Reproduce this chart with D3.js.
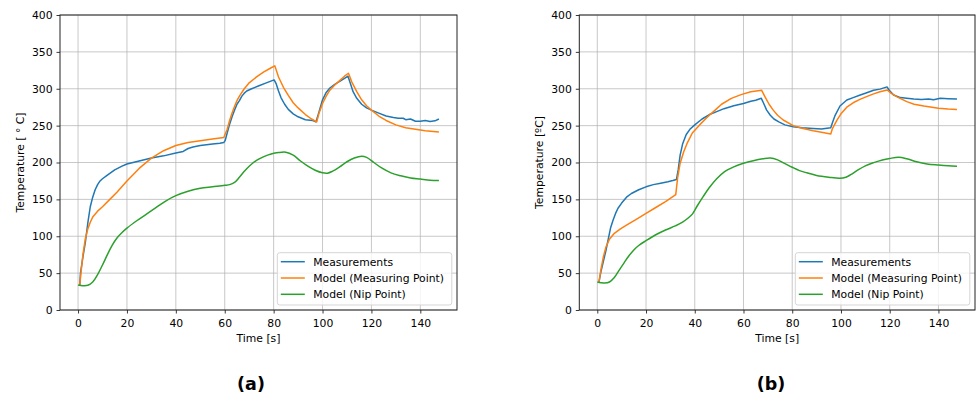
<!DOCTYPE html>
<html>
<head>
<meta charset="utf-8">
<script src="https://cdn.jsdelivr.net/npm/d3@7"></script>
<style>
  body { margin: 0; background: #fff; }
  text { font-family: "DejaVu Sans", sans-serif; fill: #000; }
</style>
</head>
<body>
<svg id="chart" width="976" height="396"></svg>
<script>
// panel (a): [time s, temperature]
const measA = [[0.7,34],[1,50],[2,72],[3,92],[4,118],[5,140],[6,153],[7,163],[8,170],[9,175],[10,178],[12,183],[15,190],[18,195],[20,198],[25,202],[30,206],[35,209],[40,213],[43,215],[45,219],[47,221],[50,223],[55,225],[58,226],[59.6,227],[60.2,230],[61,240],[62,252],[63,262],[64,271],[65,279],[66,284],[67,290],[68,294],[69,297],[71,300],[74,304],[77,308],[80.2,312],[81,307],[82,297],[83,288],[84.5,279],[86,272],[88,266],[90,262],[93,258],[96,257],[97.3,255],[98.5,268],[100,285],[101.5,295],[103,301],[105,306],[107,310],[109,314],[110.4,317],[111.3,308],[112.5,296],[114,287],[116,279],[118,274],[120,271],[123,267],[126,263],[129,261],[131,260],[133,260],[134,258],[136,259],[138,256],[140,256],[142,257],[144,255.5],[146,256.5],[147.6,259]];
const modelMpA = [[0.7,34],[1.5,60],[2,75],[3,97],[4,110],[5,119],[6,126],[8,134],[10,140],[13,150],[16,160],[20,175],[25,192],[30,206],[35,216],[40,223],[45,227],[50,229.5],[55,232],[59.6,234],[61,245],[62,257],[63,267],[64,276],[65,284],[66,290],[68,300],[70,308],[73,316],[76,323],[79,328.5],[80.5,331],[82,316],[84,302],[86,291],[88,281],[90,274],[93,265],[95.5,259],[97.6,255],[98.5,266],[100,280],[101.5,290],[103,298],[105,305],[107,311],[109,317],[110.6,321],[112,309],[114,296],[116,285],[118,277],[120,271],[123,263],[126,257],[130,251],[134,247],[138,245],[142,243],[147.6,241.5]];
const modelNipA = [[0,34],[2,33],[4,33.5],[6,38],[8,48],[10,61],[12,75],[14,88],[16,98],[18,105],[20,111],[24,121],[28,130],[32,139],[36,148],[40,155],[45,161],[50,165],[55,167],[60,169],[62,170],[64,173],[66,180],[68,188],[70,195],[73,203],[76,208],[79,211.5],[82,213.5],[85,214],[88,210],[91,202],[94,195],[97,189.5],[100,186],[102,185.5],[104,188],[107,194],[110,201],[113,206],[116,208.5],[118,207],[121,200],[124,193],[128,186],[132,182],[136,179],[140,177.5],[144,176],[147.6,175.5]];

// panel (b)
const measB = [[0.7,38],[1.5,52],[2.5,66],[3.5,80],[4.5,96],[5.5,112],[6.5,122],[7.5,131],[8.5,138],[10,145],[12,153],[14,158],[17,163],[20,167],[23,170],[26,172],[29,174],[31,175.5],[32.5,177],[33.2,190],[34,210],[35,225],[36.5,238],[38,245],[40,251],[43,259],[46,265],[49,269],[52,273],[56,277],[60,280],[63,283],[65,284.5],[67.3,287],[68.3,280],[69.5,271],[71,264],[72.5,259],[74.5,255],[77,251],[80.4,248.5],[84,247],[88.6,246],[92,245.5],[95.8,247],[96.6,255],[97.6,264],[99.6,276.6],[102.4,284.7],[105,288],[107.9,291.5],[110,294],[113.4,298],[116,299.5],[118.9,302.5],[119.8,298],[121.6,291.5],[124.4,288],[127,287],[129.9,286],[133,285.5],[136,286],[138,285],[140.8,287],[144,286.5],[147.6,286]];
const modelMpB = [[0.7,38],[1.5,55],[2.5,72],[3.5,85],[5,96],[7,104],[9.5,110],[12.5,116],[16,123],[20,131],[24,139],[28,147],[32.2,156.5],[33,180],[34,199],[35.5,215],[37,227],[39,240],[42,251],[45,261],[48,270],[51,279],[55,287],[59,292],[63,296],[67.4,298],[69,288],[70.5,279],[72.2,271],[74,264],[76.3,257.6],[80.4,250],[84,246.5],[88.6,243],[92,241],[95.8,238.5],[96.5,246],[98.3,257],[100,266],[102.4,275],[105,281],[108,286],[111,290],[113.4,293],[116,296],[119,298.3],[120.5,294],[123,289],[127,282.5],[130,279],[134,276.5],[140,273.5],[144,272.5],[147.6,272]];
const modelNipB = [[0,38],[1.5,37],[3,36.5],[5,38],[7,44],[9,54],[11,64],[13,73.5],[15,81.5],[17,87.5],[20,94],[24,102],[28,108.5],[32,114],[35,119],[37,124],[39,130],[41,141],[43.5,154],[46,166],[49,178],[52,187],[56,194],[60,199],[64,202.5],[68,205],[71,206],[74,203.5],[77,198.5],[80,193.5],[83,189],[86,186],[90,182.5],[95,180],[99.6,178.5],[102,180],[104,183.5],[107,190],[110,195.5],[113.4,199.8],[117,203.5],[120,205.5],[123.7,207],[127,205],[131,201],[135.3,198],[140,196.5],[144,195.5],[147.6,195]];

const seriesNames = ["Measurements", "Model (Measuring Point)", "Model (Nip Point)"];
const seriesColors = ["#1f77b4", "#ff7f0e", "#2ca02c"];
const xTicks = [0, 20, 40, 60, 80, 100, 120, 140];
const yTicks = [0, 50, 100, 150, 200, 250, 300, 350, 400];

const panels = [
  {left: 60, right: 457, data: [measA, modelMpA, modelNipA], ylabel: "Temperature [ \u00b0 C]", caption: "(a)", capX: 251},
  {left: 579.3, right: 975, data: [measB, modelMpB, modelNipB], ylabel: "Temperature [\u00baC]", caption: "(b)", capX: 771}
];

const plotTop = 15, plotBottom = 310;
const svg = d3.select("#chart");

panels.forEach(p => {
  const x = d3.scaleLinear().domain([-7.38, 155]).range([p.left, p.right]);
  const y = d3.scaleLinear().domain([0, 400]).range([plotBottom, plotTop]);
  const g = svg.append("g");

  // grid
  g.append("g").selectAll("line").data(xTicks).enter().append("line")
    .attr("x1", d => x(d)).attr("x2", d => x(d))
    .attr("y1", plotTop).attr("y2", plotBottom)
    .attr("stroke", "#b0b0b0").attr("stroke-opacity", 0.7).attr("stroke-width", 1);
  g.append("g").selectAll("line").data(yTicks).enter().append("line")
    .attr("x1", p.left).attr("x2", p.right)
    .attr("y1", d => y(d)).attr("y2", d => y(d))
    .attr("stroke", "#b0b0b0").attr("stroke-opacity", 0.7).attr("stroke-width", 1);

  // lines: smooth model curve for nip point, straight segments elsewhere
  const line = d3.line().x(d => x(d[0])).y(d => y(d[1]));
  p.data.forEach((s, i) => {
    g.append("path").datum(s)
      .attr("fill", "none")
      .attr("stroke", seriesColors[i])
      .attr("stroke-width", 1.5)
      .attr("stroke-linejoin", "round")
      .attr("d", i === 2 ? line.curve(d3.curveCatmullRom.alpha(0.5))(s) : line.curve(d3.curveLinear)(s));
  });

  // axes
  const xAxis = g.append("g").attr("transform", `translate(0,${plotBottom})`)
    .call(d3.axisBottom(x).tickValues(xTicks).tickSize(3.5).tickPadding(5.5));
  const yAxis = g.append("g").attr("transform", `translate(${p.left},0)`)
    .call(d3.axisLeft(y).tickValues(yTicks).tickSize(3.5).tickPadding(4));
  [xAxis, yAxis].forEach(a => {
    a.select(".domain").remove();
    a.selectAll("line").attr("stroke", "#222").attr("stroke-width", 0.9);
    a.selectAll("text").attr("font-family", "DejaVu Sans, sans-serif").attr("font-size", "10.8px").attr("fill", "#000");
  });

  // frame
  g.append("rect")
    .attr("x", p.left).attr("y", plotTop)
    .attr("width", p.right - p.left).attr("height", plotBottom - plotTop)
    .attr("fill", "none").attr("stroke", "#222").attr("stroke-width", 1);

  // axis titles
  g.append("text")
    .attr("x", (p.left + p.right) / 2).attr("y", 341.5)
    .attr("text-anchor", "middle").attr("font-size", "10.8px")
    .text("Time [s]");
  g.append("text")
    .attr("transform", `translate(${p.left - 36},${(plotTop + plotBottom) / 2}) rotate(-90)`)
    .attr("text-anchor", "middle").attr("font-size", "10.8px")
    .text(p.ylabel);

  // legend
  const lx = p.right - 179.7, ly = 252.7;
  const legend = g.append("g");
  legend.append("rect")
    .attr("x", lx).attr("y", ly).attr("width", 174.5).attr("height", 52.3)
    .attr("rx", 2.5).attr("fill", "#fff").attr("fill-opacity", 0.8)
    .attr("stroke", "#d5d5d5").attr("stroke-width", 1);
  seriesNames.forEach((name, i) => {
    const ry = ly + 9 + i * 16.3;
    legend.append("line")
      .attr("x1", lx + 3.5).attr("x2", lx + 27.5)
      .attr("y1", ry).attr("y2", ry)
      .attr("stroke", seriesColors[i]).attr("stroke-width", 1.5);
    legend.append("text")
      .attr("x", lx + 36).attr("y", ry).attr("dy", "0.36em")
      .attr("font-size", "10.8px")
      .text(name);
  });

  // caption
  g.append("text")
    .attr("x", p.capX).attr("y", 390)
    .attr("text-anchor", "middle")
    .attr("font-size", "17.5px").attr("font-weight", "bold")
    .text(p.caption);
});
</script>
</body>
</html>
